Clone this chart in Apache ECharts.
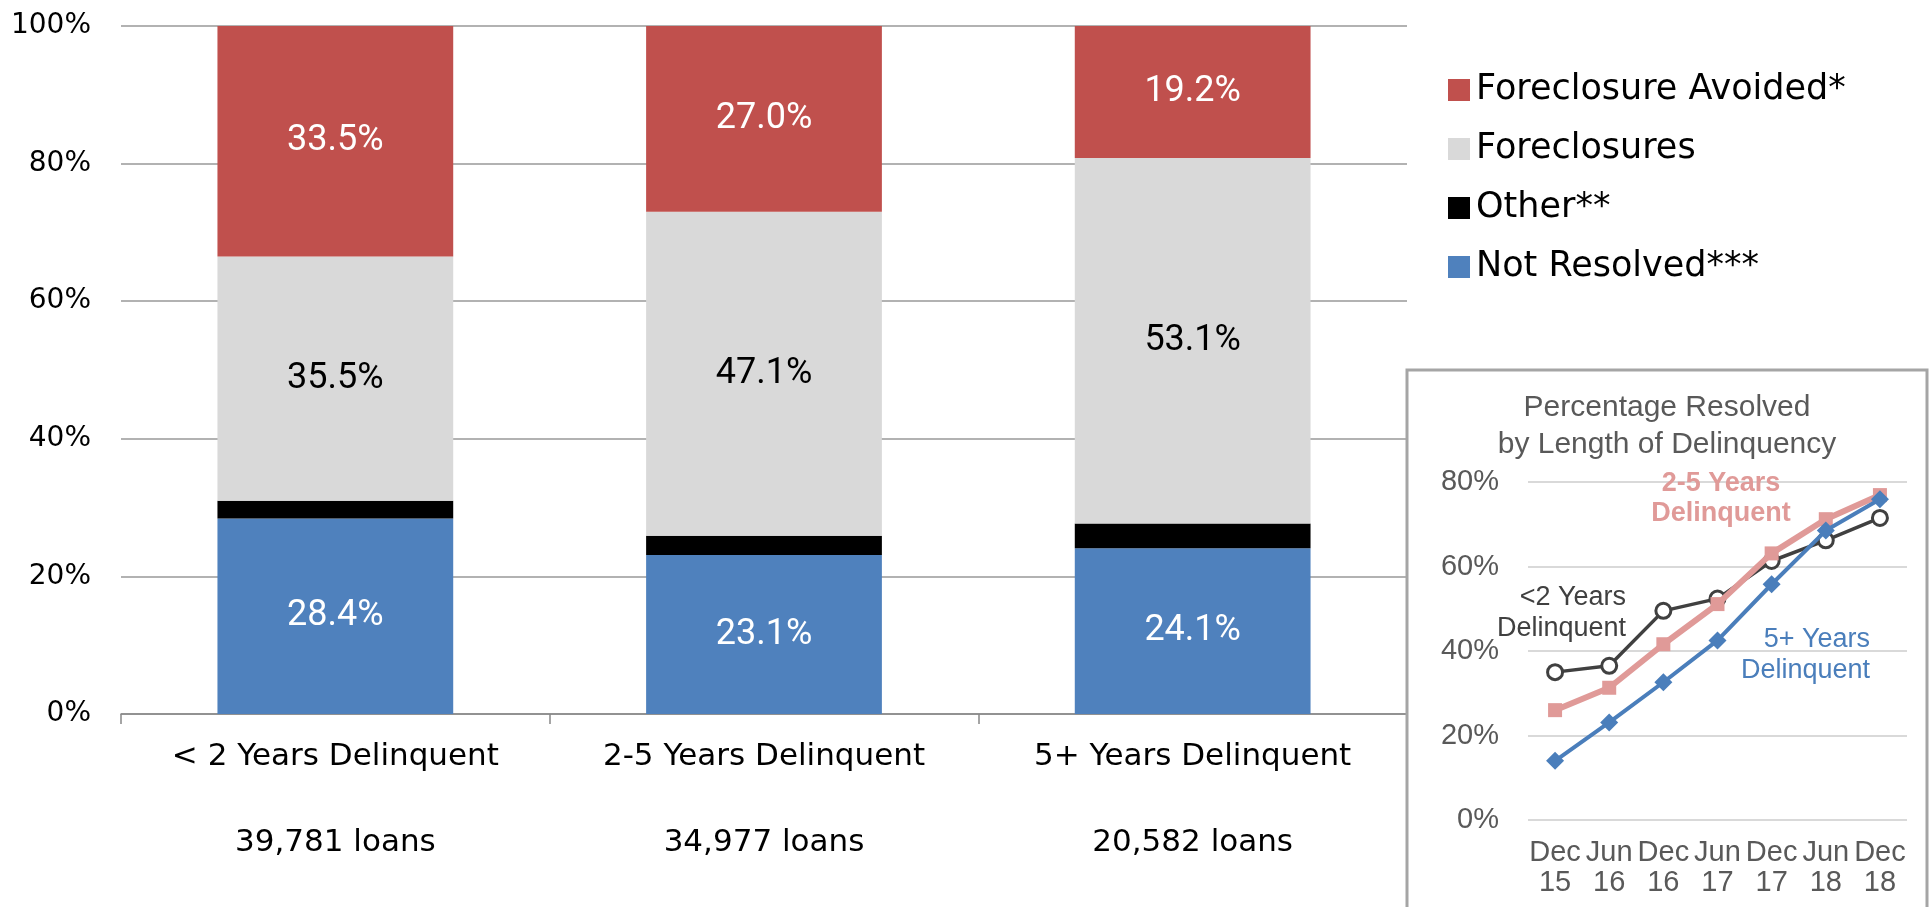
<!DOCTYPE html>
<html lang="en">
<head>
<meta charset="UTF-8">
<title>Loan resolution by length of delinquency</title>
<script src="https://cdn.jsdelivr.net/npm/echarts@6/dist/echarts.min.js"></script>
<style>
  html, body { margin: 0; padding: 0; background: #fff; }
  #main { width: 1930px; height: 907px; }
</style>
</head>
<body>
<div id="main"></div>
<script type="text/javascript">
// main stacked bars
var categories = ['< 2 Years Delinquent', '2-5 Years Delinquent', '5+ Years Delinquent'];
var loanCounts = ['39,781 loans', '34,977 loans', '20,582 loans'];
var notResolved = [28.4, 23.1, 24.1];
var other = [2.6, 2.8, 3.6];
var foreclosures = [35.5, 47.1, 53.1];
var avoided = [33.5, 27.0, 19.2];

// inset lines
var periods = ['Dec\n15', 'Jun\n16', 'Dec\n16', 'Jun\n17', 'Dec\n17', 'Jun\n18', 'Dec\n18'];
var lessThan2 = [35.0, 36.5, 49.5, 52.4, 61.3, 66.2, 71.5];
var twoToFive = [26.0, 31.3, 41.6, 51.1, 63.1, 71.2, 76.9];
var fivePlus = [14.0, 23.1, 32.6, 42.5, 55.8, 68.5, 75.9];

var chart = echarts.init(document.getElementById('main'));

function barSeries(name, data, color, labelColor) {
    return {
        name: name,
        type: 'bar',
        stack: 'total',
        barWidth: '55%',
        xAxisIndex: 0,
        yAxisIndex: 0,
        data: data,
        itemStyle: { color: color },
        label: {
            show: labelColor != null,
            position: 'inside',
            color: labelColor,
            fontFamily: 'Roboto',
            fontSize: 36,
            formatter: function (p) { return p.value.toFixed(1) + '%'; }
        }
    };
}

chart.setOption({
    animation: false,
    textStyle: { fontFamily: 'DejaVu Sans' },
    legend: {
        data: ['Foreclosure Avoided*', 'Foreclosures', 'Other**', 'Not Resolved***'],
        orient: 'vertical',
        left: 1443,
        top: 65,
        itemWidth: 22,
        itemHeight: 22,
        itemGap: 19,
        icon: 'rect',
        selectedMode: false,
        textStyle: { fontSize: 35, color: '#000', lineHeight: 40, padding: [0, 0, 0, 1] }
    },
    grid: [
        { left: 121, right: 523, top: 26, bottom: 193 },
        { left: 1528, right: 23, top: 482, bottom: 87 }
    ],
    xAxis: [{
        type: 'category',
        gridIndex: 0,
        data: categories,
        axisLine: { lineStyle: { color: '#888', width: 1.5 } },
        axisTick: { show: true, length: 10, lineStyle: { color: '#888', width: 1.5 } },
        axisLabel: {
            color: '#000',
            fontSize: 31,
            margin: 0,
            lineHeight: 86,
            formatter: function (v, i) { return v + '\n' + loanCounts[i]; }
        }
    }, {
        type: 'category',
        gridIndex: 1,
        z: 3,
        data: periods,
        axisLine: { show: false },
        axisTick: { show: false },
        axisLabel: {
            color: '#595959',
            fontFamily: 'Liberation Sans',
            fontSize: 29,
            lineHeight: 30,
            margin: 18,
            interval: 0
        }
    }],
    yAxis: [{
        type: 'value',
        gridIndex: 0,
        min: 0,
        max: 100,
        interval: 20,
        axisLine: { show: false },
        axisTick: { show: false },
        splitLine: { lineStyle: { color: '#999', width: 1.5 } },
        axisLabel: { color: '#000', fontSize: 28, margin: 30, formatter: '{value}%' }
    }, {
        type: 'value',
        gridIndex: 1,
        z: 3,
        min: 0,
        max: 80,
        interval: 20,
        axisLine: { show: false },
        axisTick: { show: false },
        splitLine: { lineStyle: { color: '#d9d9d9', width: 2 } },
        axisLabel: {
            color: '#595959',
            fontFamily: 'Liberation Sans',
            fontSize: 29,
            margin: 29,
            formatter: '{value}%'
        }
    }],
    graphic: [
        {
            type: 'rect',
            z: 1,
            shape: { x: 1407, y: 370, width: 520, height: 560 },
            style: { fill: '#fff', stroke: '#a5a5a5', lineWidth: 3 }
        },
        {
            type: 'text',
            z: 5,
            x: 1667,
            y: 426,
            style: {
                text: 'Percentage Resolved\nby Length of Delinquency',
                fill: '#595959',
                font: '30px "Liberation Sans"',
                textAlign: 'center',
                textVerticalAlign: 'middle',
                lineHeight: 37
            }
        },
        {
            type: 'text',
            z: 5,
            x: 1626,
            y: 613,
            style: {
                text: '<2 Years\nDelinquent',
                fill: '#404040',
                font: '27px "Liberation Sans"',
                textAlign: 'right',
                textVerticalAlign: 'middle',
                lineHeight: 31
            }
        },
        {
            type: 'text',
            z: 5,
            x: 1721,
            y: 499,
            style: {
                text: '2-5 Years\nDelinquent',
                fill: '#e09a98',
                font: 'bold 27px "Liberation Sans"',
                textAlign: 'center',
                textVerticalAlign: 'middle',
                lineHeight: 30
            }
        },
        {
            type: 'text',
            z: 5,
            x: 1870,
            y: 655,
            style: {
                text: '5+ Years\nDelinquent',
                fill: '#4a7ebb',
                font: '27px "Liberation Sans"',
                textAlign: 'right',
                textVerticalAlign: 'middle',
                lineHeight: 31
            }
        }
    ],
    series: [
        barSeries('Not Resolved***', notResolved, '#4f81bd', '#fff'),
        barSeries('Other**', other, '#000000', null),
        barSeries('Foreclosures', foreclosures, '#d9d9d9', '#000'),
        barSeries('Foreclosure Avoided*', avoided, '#c0504d', '#fff'),
        {
            name: '<2 Years Delinquent',
            type: 'line',
            xAxisIndex: 1,
            yAxisIndex: 1,
            z: 10,
            data: lessThan2,
            symbol: 'circle',
            symbolSize: 15,
            lineStyle: { color: '#404040', width: 3.5 },
            itemStyle: { color: '#fff', borderColor: '#404040', borderWidth: 3 }
        },
        {
            name: '2-5 Years Delinquent',
            type: 'line',
            xAxisIndex: 1,
            yAxisIndex: 1,
            z: 11,
            data: twoToFive,
            symbol: 'rect',
            symbolSize: 14,
            lineStyle: { color: '#e09a98', width: 6 },
            itemStyle: { color: '#e09a98' }
        },
        {
            name: '5+ Years Delinquent',
            type: 'line',
            xAxisIndex: 1,
            yAxisIndex: 1,
            z: 12,
            data: fivePlus,
            symbol: 'diamond',
            symbolSize: 18,
            lineStyle: { color: '#4a7ebb', width: 4 },
            itemStyle: { color: '#4a7ebb' }
        }
    ]
});
</script>
</body>
</html>
